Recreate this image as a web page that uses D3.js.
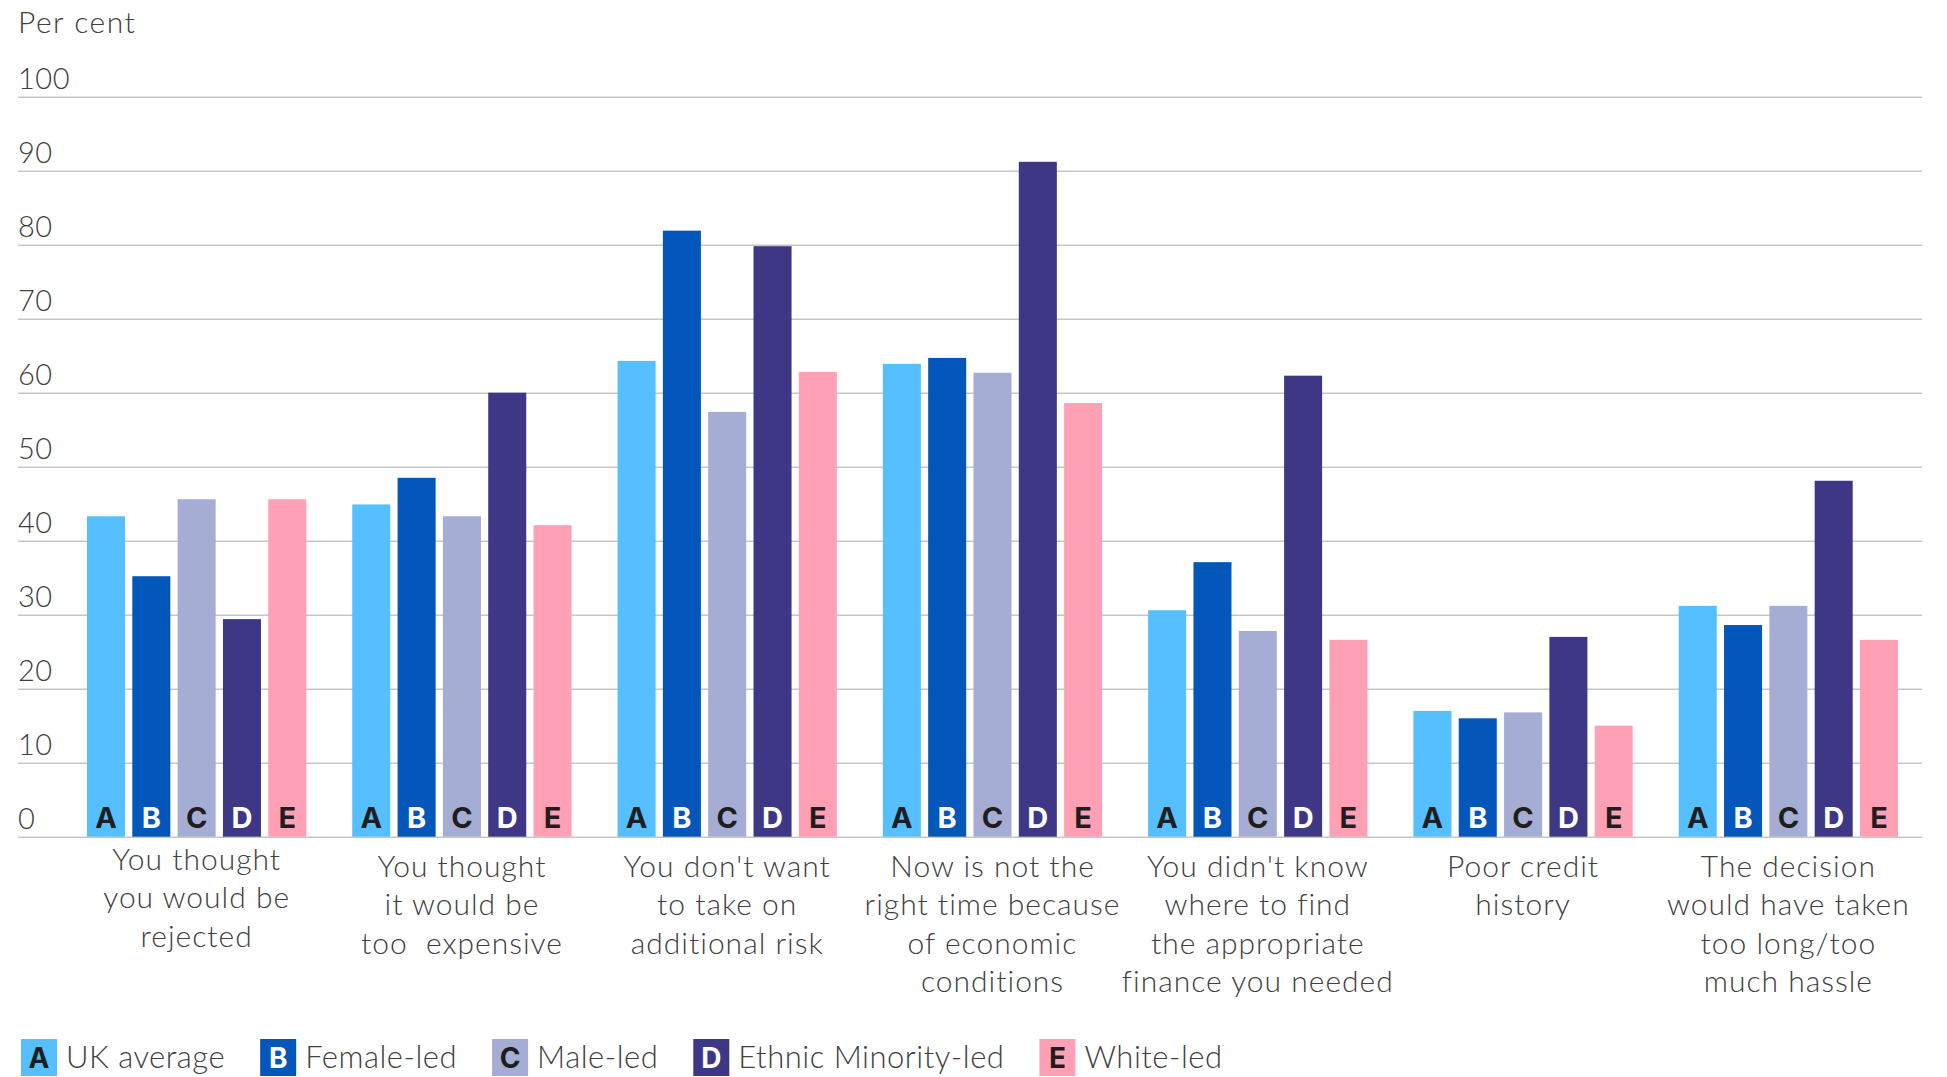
<!DOCTYPE html>
<html>
<head>
<meta charset="utf-8">
<script src="https://cdn.jsdelivr.net/npm/d3@7"></script>
<style>
  html, body { margin: 0; padding: 0; background: #fff; }
  svg { display: block; }
  text { font-family: Lato, "Open Sans", sans-serif; font-weight: 300; }
</style>
</head>
<body>
<svg id="chart" width="1947" height="1077"></svg>
<script>
// ---- data ----
const categories = [
  ["You thought", "you would be", "rejected"],
  ["You thought", "it would be", "too  expensive"],
  ["You don't want", "to take on", "additional risk"],
  ["Now is not the", "right time because", "of economic", "conditions"],
  ["You didn't know", "where to find", "the appropriate", "finance you needed"],
  ["Poor credit", "history"],
  ["The decision", "would have taken", "too long/too", "much hassle"]
];
const seriesNames = ["UK average", "Female-led", "Male-led", "Ethnic Minority-led", "White-led"];
const seriesLetters = ["A", "B", "C", "D", "E"];
const ukAverage         = [43.3, 44.9, 64.3, 63.9, 30.6, 17.0, 31.2];
const femaleLed         = [35.2, 48.5, 81.9, 64.7, 37.1, 16.0, 28.6];
const maleLed           = [45.6, 43.3, 57.4, 62.7, 27.8, 16.8, 31.2];
const ethnicMinorityLed = [29.4, 60.0, 79.8, 91.2, 62.3, 27.0, 48.1];
const whiteLed          = [45.6, 42.1, 62.8, 58.6, 26.6, 15.0, 26.6];
const yTicks = [0, 10, 20, 30, 40, 50, 60, 70, 80, 90, 100];
const yTitle = "Per cent";

// ---- styles ----
const seriesValues = [ukAverage, femaleLed, maleLed, ethnicMinorityLed, whiteLed];
const fillColors = ["#56BFFF", "#0356BA", "#A5ADD4", "#3D3786", "#FFA0B5"];
const letterColors = ["#1e1e1e", "#ffffff", "#1e1e1e", "#ffffff", "#1e1e1e"];
const textColor = "#404040";
const gridColor = "#c6c6c6";

const svg = d3.select("#chart");
const gridLeft = 18, gridRight = 1922;
const plotLeft = 64, plotRight = 1921;
const yTop = 96.7, yBottom = 836.7;

const x0 = d3.scaleBand()
  .domain(d3.range(categories.length))
  .range([plotLeft, plotRight])
  .paddingInner(0.1733)
  .paddingOuter(0.0866);
const x1 = d3.scaleBand()
  .domain(d3.range(seriesNames.length))
  .range([0, x0.bandwidth()])
  .paddingInner(0.161)
  .paddingOuter(0);
const y = d3.scaleLinear().domain([0, 100]).range([yBottom, yTop]);

// gridlines + tick labels
const yAxis = d3.axisRight(y)
  .tickValues(yTicks)
  .tickFormat(d3.format("d"))
  .tickSize(gridRight - gridLeft);
const gy = svg.append("g")
  .attr("transform", `translate(${gridLeft},0)`)
  .call(yAxis);
gy.select(".domain").remove();
gy.selectAll(".tick line").attr("stroke", gridColor).attr("stroke-width", 1.6);
gy.selectAll(".tick text")
  .attr("x", 0).attr("y", -8).attr("dy", 0)
  .attr("text-anchor", "start")
  .attr("fill", textColor)
  .style("font-size", "29px")
  .style("letter-spacing", "0.5px");

svg.append("text")
  .attr("x", gridLeft).attr("y", 33)
  .attr("fill", textColor)
  .style("font-size", "30px")
  .style("letter-spacing", "1.5px")
  .text(yTitle);

// bars
const groups = svg.append("g").selectAll("g")
  .data(categories.map((c, i) => i))
  .join("g")
  .attr("transform", i => `translate(${x0(i)},0)`);

const bars = groups.selectAll("g.bar")
  .data(i => seriesValues.map((vals, s) => ({ s, v: vals[i] })))
  .join("g").attr("class", "bar");

bars.append("rect")
  .attr("x", d => x1(d.s))
  .attr("width", x1.bandwidth())
  .attr("y", d => y(d.v))
  .attr("height", d => y(0) - y(d.v))
  .attr("fill", d => fillColors[d.s]);

bars.append("text")
  .attr("x", d => x1(d.s) + x1.bandwidth() / 2)
  .attr("y", y(0) - 9)
  .attr("text-anchor", "middle")
  .attr("fill", d => letterColors[d.s])
  .style("font-size", "29px")
  .style("font-weight", "700")
  .style("font-family", "Inter, Roboto, sans-serif")
  .text(d => seriesLetters[d.s]);

// category labels via bottom axis
const xAxis = d3.axisBottom(x0).tickSize(0).tickFormat(() => "");
const gx = svg.append("g")
  .attr("transform", `translate(0,${yBottom})`)
  .call(xAxis);
gx.select(".domain").remove();
gx.selectAll(".tick text").remove();
gx.selectAll(".tick").each(function(i) {
  const t = d3.select(this).append("text")
    .attr("text-anchor", "middle")
    .attr("fill", textColor)
    .style("font-size", "30px")
    .style("letter-spacing", "1px")
    .style("white-space", "pre");
  const base = i === 0 ? 33 : 40;
  categories[i].forEach((line, k) => {
    t.append("tspan").attr("x", 0).attr("y", base + k * 38.5).text(line);
  });
});

// legend
const legend = svg.append("g").attr("transform", "translate(21,1039)");
let lx = 0;
seriesNames.forEach((name, s) => {
  const g = legend.append("g").attr("transform", `translate(${lx},0)`);
  g.append("rect").attr("width", 36).attr("height", 37).attr("fill", fillColors[s]);
  g.append("text")
    .attr("x", 18).attr("y", 29)
    .attr("text-anchor", "middle")
    .attr("fill", letterColors[s])
    .style("font-size", "28px")
    .style("font-weight", "700")
    .style("font-family", "Inter, Roboto, sans-serif")
    .text(seriesLetters[s]);
  const t = g.append("text")
    .attr("x", 45).attr("y", 29)
    .attr("fill", textColor)
    .style("font-size", "31px")
    .style("letter-spacing", "0.5px")
    .text(name);
  lx += 45 + t.node().getComputedTextLength() + 35;
});
</script>
</body>
</html>
